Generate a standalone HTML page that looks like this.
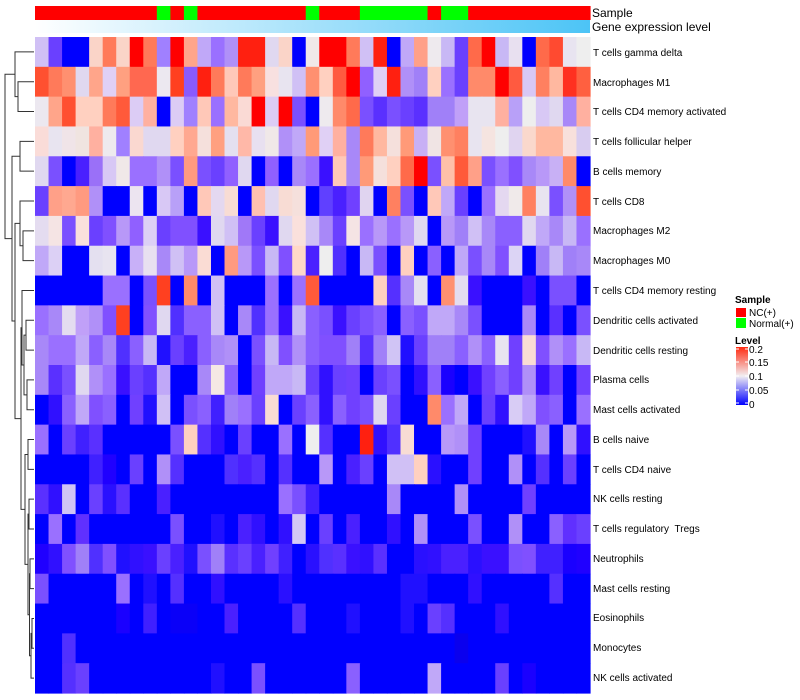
<!DOCTYPE html>
<html><head><meta charset="utf-8">
<style>
html,body{margin:0;padding:0;background:#fff;}
svg{display:block;font-family:"Liberation Sans",sans-serif;}
</style></head>
<body>
<svg id="s" width="800" height="700" xmlns="http://www.w3.org/2000/svg">
<defs>
<linearGradient id="ge" x1="0" x2="1" y1="0" y2="0">
<stop offset="0" stop-color="#ffffff"/><stop offset="1" stop-color="#4cc4f6"/>
</linearGradient>
<linearGradient id="lv" x1="0" x2="0" y1="0" y2="1">
<stop offset="0" stop-color="#ff2a10"/><stop offset="0.5" stop-color="#f2eef2"/><stop offset="1" stop-color="#0000ff"/>
</linearGradient>
</defs>
<g id="cells"></g>
<rect x="35" y="20" width="555" height="13" fill="url(#ge)"/>
<text x="592" y="17" font-size="12">Sample</text>
<text x="592" y="31" font-size="12">Gene expression level</text>
<g font-size="10" fill="#000">
<text x="593" y="56">T cells gamma delta</text>
<text x="593" y="86">Macrophages M1</text>
<text x="593" y="115">T cells CD4 memory activated</text>
<text x="593" y="145">T cells follicular helper</text>
<text x="593" y="175">B cells memory</text>
<text x="593" y="205">T cells CD8</text>
<text x="593" y="234">Macrophages M2</text>
<text x="593" y="264">Macrophages M0</text>
<text x="593" y="294">T cells CD4 memory resting</text>
<text x="593" y="324">Dendritic cells activated</text>
<text x="593" y="354">Dendritic cells resting</text>
<text x="593" y="383">Plasma cells</text>
<text x="593" y="413">Mast cells activated</text>
<text x="593" y="443">B cells naive</text>
<text x="593" y="473">T cells CD4 naive</text>
<text x="593" y="502">NK cells resting</text>
<text x="593" y="532">T cells regulatory &#160;Tregs</text>
<text x="593" y="562">Neutrophils</text>
<text x="593" y="592">Mast cells resting</text>
<text x="593" y="621">Eosinophils</text>
<text x="593" y="651">Monocytes</text>
<text x="593" y="681">NK cells activated</text>
</g>
<g id="dend" stroke="#333" stroke-width="1" fill="none"></g>
<g font-size="10">
<text x="735" y="303" font-weight="bold">Sample</text>
<rect x="736" y="308" width="10" height="9" fill="#ff0000"/>
<text x="749" y="316">NC(+)</text>
<rect x="736" y="318" width="10" height="10" fill="#00ff00"/>
<text x="749" y="327">Normal(+)</text>
<text x="735" y="344" font-weight="bold">Level</text>
<rect x="736" y="347" width="12" height="58" fill="url(#lv)"/>
<g stroke="#fff" stroke-width="1">
<line x1="736" y1="349" x2="739" y2="349"/><line x1="745" y1="349" x2="748" y2="349"/>
<line x1="736" y1="362" x2="739" y2="362"/><line x1="745" y1="362" x2="748" y2="362"/>
<line x1="736" y1="376" x2="739" y2="376"/><line x1="745" y1="376" x2="748" y2="376"/>
<line x1="736" y1="390" x2="739" y2="390"/><line x1="745" y1="390" x2="748" y2="390"/>
<line x1="736" y1="403" x2="739" y2="403"/><line x1="745" y1="403" x2="748" y2="403"/>
</g>
<text x="749" y="353">0.2</text>
<text x="749" y="366">0.15</text>
<text x="749" y="380">0.1</text>
<text x="749" y="394">0.05</text>
<text x="749" y="408">0</text>
</g>
</svg>
<script>
var D=[
"d0c0f5,6a40ff,B,B,fad4c8,ff7a5a,fad4c8,ff0000,ff7a5a,a080ff,ff0000,ffa58a,c0a8f8,9a70ff,b090f8,ff2010,ff2010,e0d8f0,fad4c8,B,f0e8e8,ff0000,ff0000,ff7a5a,d0c0f5,ff2010,B,c0a8f8,ffa088,eeeaee,c8b8f5,6a40ff,ff6a4a,ff0000,c8b8f5,e8e0f0,B,ff6a4a,ff4a30,e8e4f0,eeeeee",
"ff5030,ff7a5a,ff9070,e0d8f0,ffa58a,e0d0f5,ffa080,ff6850,ff6850,ece8f0,ff4020,8a5aff,ff2010,ff7a5a,ffc8b8,ff7a5a,ffa080,f8e0e0,e8e4f0,d0c0f5,ff9070,ffd0c0,ff5a40,ff0000,9060ff,e0d0f5,ff2010,b090f8,a080f8,ffd0c0,9a70ff,6a40ff,ff8a6a,ff8a6a,ff0000,ff5a40,d8c8f5,ff8060,ffb8a0,ff3020,ff6040",
"ece8f0,ffa58a,ff5030,ffd0c0,ffd0c0,ff7a5a,ff5a3a,dcccf5,ffb0a0,B,dcccf5,a080ff,ffc8b8,9a70ff,ffb8a0,fadad5,ff0000,dcccf5,ff0000,7a50ff,B,eeeaee,ff8a6a,ff6a4a,7a50ff,5a30ff,7a50ff,6a40ff,5a30ff,a080f8,a080f8,c0a0f8,e8e4f0,e8e4f0,ffb0a0,b8a0f8,eeeeee,d8c8f5,e0d8f0,a888f8,ffb0a0",
"fadcd8,e8e4f0,f0e4e8,f0e4e0,ffb0a0,eeeaee,a080ff,fad8d0,e0d8f0,e0d8f0,ffd0c0,ffa890,f5e0dc,ffa080,e4e0f0,ffb8a8,e8e0f0,f0e8e8,b090f8,c0a8f8,ff9a78,e0d0f5,ffb0a0,a888f8,ff7a5a,ffb8a0,f5e0dc,ff9a78,c8b0f5,f0e4e4,ff9070,ff8060,e8e4f0,f5e4e0,eeeeee,e0d4f0,fad8cc,ffb8a0,ffb8a0,f8e0dc,d8ccf0",
"e0d8f0,7a50ff,B,4a20ff,9a70f8,d8c8f5,f0e8e8,9a70ff,9a70ff,b090f8,7a50ff,ff9a80,7a50ff,6a40ff,9060ff,e0d8f0,B,9060ff,B,a888f8,9a70ff,3a10ff,ffc8b8,a888f8,ff9a78,f5e0dc,ffd0c0,ff6a4a,ff0000,7a50ff,ffc0a8,ff5a3a,ffa088,7a50ff,9a70ff,8050ff,a888f8,b898f8,c8b0f5,ff8a6a,B",
"6a40ff,ffa088,ffa890,ff9a80,b090f8,B,B,ece4f0,B,d8c8f5,b8a0f8,B,ffc8b8,e4d8f0,f8dcd4,B,ffc0b0,e0d8f0,f8dcd4,f5e0dc,B,6040ff,4a20ff,7040ff,e0d4f0,B,ff8060,7a50ff,B,ffc8b8,c0a8f8,6a40ff,B,9a70ff,e4d8f0,f0eaea,ff8060,e8e4f0,7a50ff,b090f8,ff5030",
"e4dcf0,f5e4e4,7a50ff,fae0dc,6a40ff,8050ff,b898f8,9060ff,dcd0f5,6a40ff,8050ff,8050ff,3a10ff,e0d8f0,d0c0f5,a078f8,6a40ff,3a10ff,e0d8f0,fae0dc,d0c0f5,a888f8,6a40ff,f5e4e4,9a70ff,b898f8,9a70ff,b898f8,e0d8f0,B,b898f8,a080f8,d0c0f5,a888f8,8a60ff,8a60ff,e0d8f0,c0a8f8,a888f8,c8b8f5,9a70ff",
"c0a8f8,dcd0f5,B,B,e4e0f0,e8e4f0,B,c8b0f8,e8e0f0,a888f8,d0c0f5,b898f8,fadcd4,B,ff9a80,b898f8,7a50ff,c8b8f5,8050ff,ffd8c8,4a20ff,eeeeee,5030ff,B,c8b8f5,7a50ff,B,ffd0c0,B,8a60ff,B,c0a8f8,7a50ff,a888f8,8050ff,dcd4f5,B,a080f8,c8b8f5,a080f8,a888f8",
"B,B,B,B,B,9a70ff,9a70ff,B,7a50ff,ff4020,B,ff8a6a,B,d0c0f5,B,B,B,9a70ff,B,9a70ff,ff5a3a,B,B,B,B,ffd0c0,5530ff,a888f8,e4e0f0,B,ff9070,e4dcf0,3a10ff,B,B,B,3a10ff,B,7a50ff,7a50ff,B",
"9a70ff,a888f8,e4dcf0,c0a0f8,b090f8,8050ff,ff4020,B,8050ff,e0d8f0,5030ff,8a60ff,8a60ff,d0c0f5,B,a888f8,5030ff,9a70ff,3a10ff,c8b8f5,8a60ff,7a50ff,3a10ff,6a40ff,7a50ff,8a60ff,B,8a60ff,7a50ff,c0a8f8,c0a8f8,a888f8,7a50ff,B,B,B,a888f8,B,5a30ff,B,7a50ff",
"a888f8,9a70ff,9a70ff,c0a8f8,8a60ff,a888f8,5030ff,8a60ff,c8b8f5,2010ff,6a40ff,4a20ff,8a60ff,a888f8,b090f8,B,7a50ff,c8b8f5,8050ff,b090f8,8a60ff,8050ff,8050ff,a080f8,5530ff,a080f8,d0c4f5,2010ff,6a40ff,a080f8,a080f8,8a60ff,b090f8,8a60ff,e8e4f0,7040ff,fadcd4,8050ff,b090f8,9a70ff,c8b8f5",
"a888f8,5a30ff,7a50ff,e0d8f0,b090f8,9a70ff,3a10ff,6a40ff,5530ff,c0a8f8,B,B,a888f8,f5e8e4,8a60ff,B,7040ff,c0a8f8,c0a8f8,c8b8f5,6a40ff,3010ff,6a40ff,7040ff,B,6a40ff,7a50ff,B,3010ff,8a60ff,1a00ff,B,3a10ff,7040ff,8a60ff,7040ff,b090f8,3a10ff,7040ff,B,7040ff",
"B,3010ff,8a60ff,c0a8f8,8050ff,8a60ff,B,7040ff,2010ff,d0c0f5,B,7a50ff,8a60ff,4020ff,a080f8,9a70ff,6a40ff,fadcd4,B,6a40ff,8a60ff,3010ff,8a60ff,7040ff,7a50ff,e0d8f0,6a40ff,B,B,ff8a6a,9a70ff,c0a8f8,B,6a40ff,3010ff,d8ccf5,c0a8f8,8050ff,8a60ff,B,9a70ff",
"9a70ff,B,6a40ff,4020ff,5a30ff,B,B,B,B,B,7a50ff,ffcfc0,5530ff,3010ff,B,6a40ff,B,B,9a70ff,B,eeeeee,5530ff,B,B,ff2010,3010ff,5030ff,f8dcd4,B,B,b898f8,b090f8,7040ff,B,B,B,2010ff,a888f8,B,b898f8,3010ff",
"B,B,B,B,4020ff,2000ff,B,6a40ff,B,b090f8,5530ff,B,B,B,5030ff,4a20ff,5530ff,B,5530ff,B,B,b898f8,B,4a20ff,6a40ff,B,d0c0f5,d0c0f5,ffd0c0,2a10ff,B,B,7040ff,B,B,b090f8,B,5530ff,B,6a40ff,B",
"5a30ff,3010ff,d0c4f5,B,6a40ff,2a10ff,5a30ff,B,B,4a20ff,B,B,B,B,B,B,B,B,9a70ff,7a50ff,4020ff,B,B,B,B,B,a888f8,B,B,B,B,b090f8,B,B,B,B,7040ff,B,B,B,B",
"B,9a70ff,B,6030ff,B,B,B,B,B,B,7a50ff,B,B,2010ff,B,4a20ff,3010ff,B,3010ff,d4c8f5,B,6a40ff,B,4a20ff,B,B,3010ff,B,b090f8,B,B,B,7a50ff,B,B,b090f8,B,B,8a60ff,6030ff,6a40ff",
"2000ff,3010ff,8050ff,a080f8,5030ff,8050ff,2010ff,3010ff,3a10ff,6a40ff,4a20ff,2010ff,7a50ff,a080f8,5a30ff,6a40ff,4a20ff,7040ff,4020ff,B,2a10ff,5030ff,5a30ff,3a10ff,3010ff,5a30ff,B,B,2a10ff,3010ff,4a20ff,4a20ff,2a10ff,3a10ff,3a10ff,7a50ff,8050ff,4020ff,4020ff,1a00ff,2000ff",
"7a50ff,B,B,B,B,B,9a70ff,B,2010ff,B,5530ff,B,B,3010ff,B,B,B,B,2a10ff,B,B,B,B,B,B,B,B,2010ff,2010ff,B,B,B,3010ff,B,B,B,B,B,5530ff,B,B",
"B,B,B,B,B,B,1a00ff,B,4020ff,B,0a00f8,0a00f8,B,B,4a20ff,B,B,B,B,5530ff,B,B,B,2010ff,B,B,B,2010ff,B,6a40ff,5530ff,B,B,B,3010ff,B,B,B,B,B,B",
"B,B,5030ff,B,B,B,B,B,B,B,B,B,B,B,B,B,B,B,B,B,B,B,B,B,B,B,B,B,B,B,B,0a00ee,B,B,B,B,B,B,B,B,B",
"B,B,5530ff,6a40ff,B,B,B,B,B,B,B,B,B,2010ff,B,B,7a50ff,B,B,B,B,B,B,8a60ff,B,B,B,B,B,c0a8f8,B,B,B,B,6a40ff,B,1a00ff,B,B,B,B"
];
var NS="http://www.w3.org/2000/svg",g=document.getElementById("cells");
function R(x,y,w,h,f,p){var r=document.createElementNS(NS,"rect");r.setAttribute("x",x);r.setAttribute("y",y);r.setAttribute("width",w);r.setAttribute("height",h);r.setAttribute("fill",f);(p||g).appendChild(r);}
var cw=555/41,rh=656/22,x0=35,y0=37;
for(var i=0;i<22;i++){var a=D[i].split(",");for(var j=0;j<41;j++){var c=a[j]||"B";R(x0+j*cw,y0+i*rh,cw+0.6,rh+0.6,c=="B"?"#0000ff":"#"+c);}}
// sample bar
var sm="RRRRRRRRRGRGRRRRRRRRGRRRGGGGGRGGRRRRRRRRR";
for(var j=0;j<41;j++)R(x0+j*cw,6,cw+0.6,14,sm[j]=="G"?"#00ff00":"#ff0000");
// dendrogram
var dg=document.getElementById("dend"),yc=[];for(var i=0;i<22;i++)yc.push(y0+rh*(i+0.5));
var N={};for(var i=0;i<22;i++)N["r"+i]={x:34,y:yc[i]};
function M(n,a,b,x){var A=N[a],B2=N[b];var p=document.createElementNS(NS,"path");
p.setAttribute("d","M"+A.x+" "+A.y+"H"+x+"V"+B2.y+"H"+B2.x);dg.appendChild(p);N[n]={x:x,y:(A.y+B2.y)/2};}
M("n1","r1","r2",18);M("n2","r0","n1",15);M("n3","r3","r4",20);M("n4","r6","r7",23);M("n5","r5","n4",20);
M("n7","r9","r10",26);M("n8","r11","r12",27);M("n9","n7","n8",24);M("n10","r8","n9",22);
M("n12","r13","r14",28);M("n13","r15","r16",29);M("n14","r17","r18",30);M("n15","r19","r20",32);
M("n16","n15","r21",31);M("n17","n14","n16",29.5);M("n18","n13","n17",28);M("n19","n12","n18",25);
M("n20","n10","n19",21);M("n21","n5","n20",15);M("n22","n3","n21",12);M("n23","n2","n22",5);
</script>
</body></html>
